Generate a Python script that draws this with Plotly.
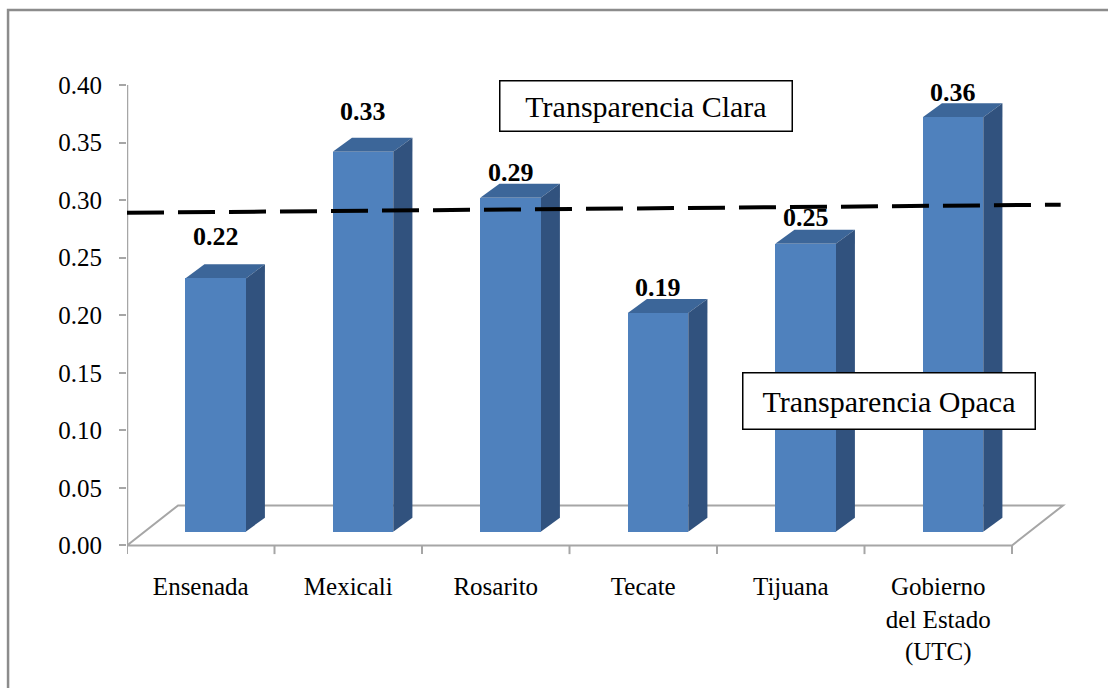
import plotly.graph_objects as go

# ---- data -------------------------------------------------------------
categories = ["Ensenada", "Mexicali", "Rosarito", "Tecate", "Tijuana",
              "Gobierno<br>del Estado<br>(UTC)"]
values = [0.22, 0.33, 0.29, 0.19, 0.25, 0.36]
y_ticks = [0.00, 0.05, 0.10, 0.15, 0.20, 0.25, 0.30, 0.35, 0.40]
# dashed reference line separating "clara" from "opaca"
threshold_x = [0.0, 6.33]
threshold_y = [0.289, 0.296]

# ---- styling / pseudo-3D geometry -----------------------------------
FONT = "Liberation Serif"
FRONT = "#4F81BD"
TOP = "#3C6699"
SIDE = "#31527E"
GRID = "#A6A6A6"

BAR_SHIFT = 0.10    # front face sits a bit to the right (perspective)
BAR_W = 0.41
BASE = 0.012        # front face starts slightly above the floor front edge
DX, DY = 0.13, 0.0122   # depth of each bar
FLOOR_X, FLOOR_Y = 0.346, 0.0348  # depth of the floor
LABEL_LIFT = [28, 26, 11, 11, 12, 11]  # px above each bar top

n = len(categories)
centers = [i + 0.5 for i in range(n)]
front_x = [c + BAR_SHIFT for c in centers]

fig = go.Figure()

# front faces of the bars
fig.add_trace(go.Bar(
    x=front_x, y=values, base=[BASE] * n, width=BAR_W,
    marker=dict(color=FRONT, line=dict(width=0)),
    hoverinfo="skip", showlegend=False,
))

# dashed threshold line
fig.add_trace(go.Scatter(
    x=threshold_x, y=threshold_y, mode="lines",
    line=dict(color="black", width=4, dash="37px,14px"),
    hoverinfo="skip", showlegend=False,
))

shapes = []
# floor outline
shapes.append(dict(
    type="path", xref="x", yref="y", layer="below",
    path=f"M 0,0 L {FLOOR_X},{FLOOR_Y} L {n + FLOOR_X},{FLOOR_Y} L {n},0 Z",
    line=dict(color=GRID, width=2), fillcolor="rgba(0,0,0,0)",
))
# vertical axis line
shapes.append(dict(type="line", xref="x", yref="y", layer="below",
                   x0=0, x1=0, y0=0, y1=y_ticks[-1],
                   line=dict(color=GRID, width=2.5)))
# category boundary ticks
for i in range(n + 1):
    shapes.append(dict(type="line", xref="x", yref="y", layer="below",
                       x0=i, x1=i, y0=0, y1=-0.0075,
                       line=dict(color=GRID, width=2)))

# top and side faces of each bar
for fx, v in zip(front_x, values):
    x0, x1 = fx - BAR_W / 2, fx + BAR_W / 2
    top = BASE + v
    shapes.append(dict(
        type="path", xref="x", yref="y", layer="below",
        path=(f"M {x0},{top} L {x1},{top} L {x1 + DX},{top + DY} "
              f"L {x0 + DX},{top + DY} Z"),
        fillcolor=TOP, line=dict(width=0),
    ))
    shapes.append(dict(
        type="path", xref="x", yref="y", layer="below",
        path=(f"M {x1},{BASE} L {x1},{top} L {x1 + DX},{top + DY} "
              f"L {x1 + DX},{BASE + DY} Z"),
        fillcolor=SIDE, line=dict(width=0),
    ))

# outer chart frame
shapes.append(dict(type="rect", xref="paper", yref="paper",
                   x0=-0.126, x1=1.2, y0=-0.5, y1=1.159,
                   line=dict(color="#8C8C8C", width=2.5),
                   fillcolor="rgba(0,0,0,0)", layer="below"))

annotations = []
# value labels
for fx, v, lift in zip(front_x, values, LABEL_LIFT):
    annotations.append(dict(
        x=fx, y=BASE + v + DY, xref="x", yref="y",
        text=f"<b>{v:.2f}</b>", showarrow=False,
        yanchor="middle", yshift=lift,
        font=dict(family=FONT, size=26, color="black"),
    ))

# zone labels
annotations.append(dict(
    x=3.519, y=0.382, xref="x", yref="y", text="Transparencia Clara",
    showarrow=False, font=dict(family=FONT, size=30, color="black"),
    bordercolor="black", borderwidth=1.5, borderpad=0,
    bgcolor="white", width=291, height=49,
))
annotations.append(dict(
    x=5.169, y=0.1257, xref="x", yref="y", text="Transparencia Opaca",
    showarrow=False, font=dict(family=FONT, size=30, color="black"),
    bordercolor="black", borderwidth=1.5, borderpad=0,
    bgcolor="white", width=291, height=55,
))

fig.update_layout(
    width=1108, height=688,
    margin=dict(l=127, r=37, t=85, b=131),
    paper_bgcolor="white", plot_bgcolor="white",
    shapes=shapes, annotations=annotations,
    bargap=0, showlegend=False,
    xaxis=dict(
        range=[0, 6.4], tickmode="array", tickvals=centers,
        ticktext=categories, ticks="", showgrid=False, zeroline=False,
        showline=False, ticklabelstandoff=12,
        tickfont=dict(family=FONT, size=25, color="black"),
    ),
    yaxis=dict(
        range=[-0.01, 0.40], tickmode="array", tickvals=y_ticks,
        tickformat=".2f", ticks="outside", ticklen=7, tickwidth=2,
        tickcolor=GRID, showgrid=False, zeroline=False, showline=False,
        ticklabelstandoff=12,
        tickfont=dict(family=FONT, size=25, color="black"),
    ),
)

fig.write_html("out.html")
